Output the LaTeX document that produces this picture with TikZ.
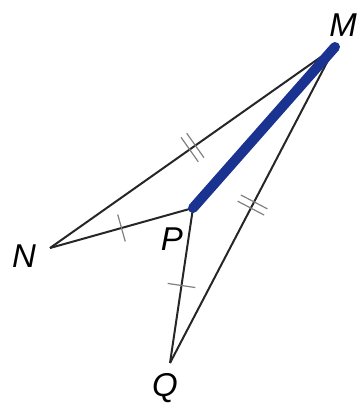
\documentclass[tikz,border=0pt]{standalone}
\usepackage{fontspec}
\setsansfont{Liberation Sans}
\usepackage{xcolor}
\usetikzlibrary{decorations.markings}
\definecolor{segblue}{HTML}{1A3290}

\tikzset{
  side/.style={line width=2pt, black!85},
  onetick/.style={postaction={decorate}, decoration={markings,
    mark=at position 0.5 with {\draw[line width=1.2pt, black!50] (0,-14pt) -- (0,14pt);}}},
  twotick/.style={postaction={decorate}, decoration={markings,
    mark=at position 0.5 with {\draw[line width=1.2pt, black!50] (-3.5pt,-15pt) -- (-3.5pt,15pt) (3.5pt,-15pt) -- (3.5pt,15pt);}}},
  vlabel/.style={font=\fontsize{33}{33}\selectfont\sffamily\itshape, inner sep=0pt}
}

\begin{document}
\begin{tikzpicture}[x=1pt, y=-1pt]
  \useasboundingbox (0,0) rectangle (363,412);
  \coordinate (M) at (335,47);
  \coordinate (N) at (50,248);
  \coordinate (P) at (193,208);
  \coordinate (Q) at (170,363);

  \draw[side, twotick] (N) -- (M);
  \draw[side, twotick] (Q) -- (M);
  \draw[side, onetick] (N) -- (P);
  \draw[side, onetick] (P) -- (Q);
  \draw[segblue, line width=10pt, line cap=round] (P) -- (M);

  \node[vlabel] (labM) at (343,25) {M};
  \node[vlabel] (labN) at (24,256) {N};
  \node[vlabel] (labP) at (172,239) {P};
  \node[vlabel] (labQ) at (165,388) {Q};
\end{tikzpicture}
\end{document}
